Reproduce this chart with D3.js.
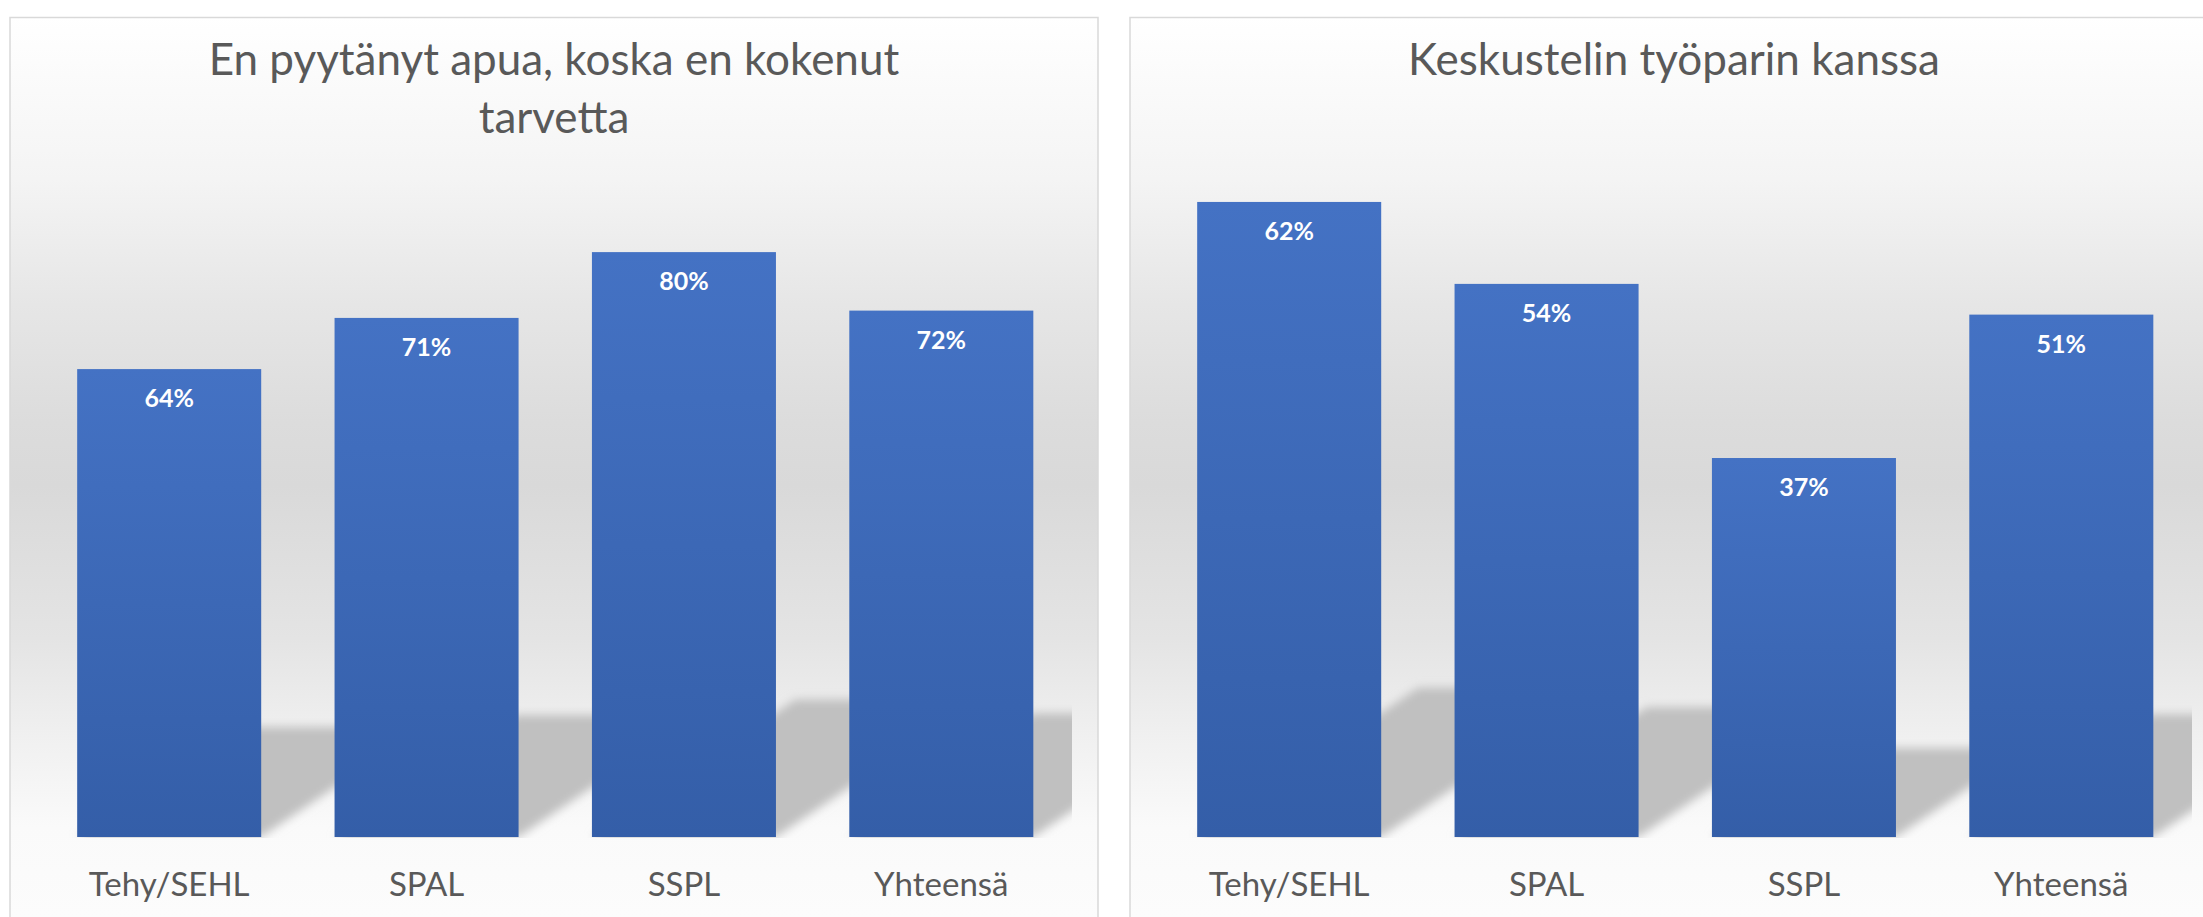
<!DOCTYPE html>
<html>
<head>
<meta charset="utf-8">
<script src="https://cdn.jsdelivr.net/npm/d3@7"></script>
<style>
    html, body { margin: 0; padding: 0; background: #ffffff; }
    svg { display: block; }
    .chart-title { font-family: Lato, "Open Sans", sans-serif; fill: #595959; }
    .cat-label { font-family: Lato, "Open Sans", sans-serif; fill: #595959; }
    .bar-label { font-family: Lato, "Open Sans", sans-serif; font-weight: 700; fill: #ffffff; }
</style>
</head>
<body>
<svg id="chart"></svg>
<script>
// categories shared by both charts
var categories = ['Tehy/SEHL', 'SPAL', 'SSPL', 'Yhteensä'];

// left chart
var leftTitle = ['En pyytänyt apua, koska en kokenut', 'tarvetta'];
var leftValues = [0.64, 0.71, 0.80, 0.72];
var leftMax = 0.9;

// right chart
var rightTitle = ['Keskustelin työparin kanssa'];
var rightValues = [0.62, 0.54, 0.37, 0.51];
var rightMax = 0.7;

(function () {
    'use strict';

    var W = 2203, H = 917;
    var svg = d3.select('#chart').attr('width', W).attr('height', H);
    var defs = svg.append('defs');

    // panel background: white -> grey -> white
    var bg = defs.append('linearGradient')
        .attr('id', 'panel-bg')
        .attr('gradientUnits', 'userSpaceOnUse')
        .attr('x1', 0).attr('y1', 17).attr('x2', 0).attr('y2', 917);
    [[0, '#ffffff'], [0.18, '#f4f4f4'], [0.32, '#e6e6e6'], [0.45, '#dcdcdc'],
     [0.52, '#d9d9d9'], [0.69, '#e4e4e4'], [0.80, '#f0f0f0'], [0.90, '#fafafa'], [1, '#fcfcfc']]
        .forEach(function (s) {
            bg.append('stop').attr('offset', s[0]).attr('stop-color', s[1]);
        });

    // bar fill, darker towards the bottom
    var barGrad = defs.append('linearGradient')
        .attr('id', 'bar-fill')
        .attr('x1', 0).attr('y1', 0).attr('x2', 0).attr('y2', 1);
    barGrad.append('stop').attr('offset', 0).attr('stop-color', '#4472c4');
    barGrad.append('stop').attr('offset', 1).attr('stop-color', '#345ea8');

    defs.append('filter')
        .attr('id', 'shadow-blur')
        .attr('x', '-20%').attr('y', '-20%').attr('width', '140%').attr('height', '140%')
        .append('feGaussianBlur')
        .attr('stdDeviation', 5);

    function drawPanel(opts) {
        var g = svg.append('g');

        g.append('rect')
            .attr('x', opts.left)
            .attr('y', 17.5)
            .attr('width', opts.width)
            .attr('height', H + 20)
            .attr('fill', 'url(#panel-bg)')
            .attr('stroke', '#d9d9d9')
            .attr('stroke-width', 1.5);

        var x = d3.scaleBand()
            .domain(categories)
            .range([opts.left + 30.5, opts.left + 1060])
            .paddingInner(0.285)
            .paddingOuter(0.1425);

        var y = d3.scaleLinear()
            .domain([0, opts.max])
            .range([837, opts.plotTop]);

        var data = categories.map(function (c, i) {
            return { cat: c, value: opts.values[i] };
        });

        // perspective shadows, clipped to the plot area
        var clipId = 'clip-' + opts.id;
        defs.append('clipPath').attr('id', clipId)
            .append('rect')
            .attr('x', x.range()[0])
            .attr('y', 0)
            .attr('width', x.range()[1] - x.range()[0] + 2)
            .attr('height', y(0) + 1);

        g.append('g')
            .attr('clip-path', 'url(#' + clipId + ')')
            .append('g')
            .attr('filter', 'url(#shadow-blur)')
            .selectAll('path')
            .data(data)
            .enter()
            .append('path')
            .attr('fill', '#c0c0c0')
            .attr('d', function (d) {
                var x0 = x(d.cat), x1 = x0 + x.bandwidth();
                var base = y(0);
                var h = (base - y(d.value)) * 0.235;
                var dx = h * 1.48;
                return 'M' + x0 + ',' + base + 'L' + x1 + ',' + base
                    + 'L' + (x1 + dx) + ',' + (base - h)
                    + 'L' + (x0 + dx) + ',' + (base - h) + 'Z';
            });

        g.selectAll('.bar')
            .data(data)
            .enter()
            .append('rect')
            .attr('class', 'bar')
            .attr('x', function (d) { return x(d.cat); })
            .attr('y', function (d) { return y(d.value); })
            .attr('width', x.bandwidth())
            .attr('height', function (d) { return y(0) - y(d.value); })
            .attr('fill', 'url(#bar-fill)');

        g.selectAll('.bar-label')
            .data(data)
            .enter()
            .append('text')
            .attr('class', 'bar-label')
            .attr('x', function (d) { return x(d.cat) + x.bandwidth() / 2; })
            .attr('y', function (d) { return y(d.value) + 38; })
            .attr('text-anchor', 'middle')
            .attr('font-size', 25)
            .text(function (d) { return d3.format('.0%')(d.value); });

        g.selectAll('.cat-label')
            .data(categories)
            .enter()
            .append('text')
            .attr('class', 'cat-label')
            .attr('x', function (d) { return x(d) + x.bandwidth() / 2; })
            .attr('y', 896)
            .attr('text-anchor', 'middle')
            .attr('font-size', 33)
            .text(function (d) { return d; });

        g.selectAll('.chart-title')
            .data(opts.title)
            .enter()
            .append('text')
            .attr('class', 'chart-title')
            .attr('x', opts.left + opts.width / 2)
            .attr('y', function (d, i) { return 75 + i * 58; })
            .attr('text-anchor', 'middle')
            .attr('font-size', 44)
            .text(function (d) { return d; });
    }

    drawPanel({ id: 'left', left: 10, width: 1088, title: leftTitle, values: leftValues, max: leftMax, plotTop: 179 });
    drawPanel({ id: 'right', left: 1130, width: 1088, title: rightTitle, values: rightValues, max: rightMax, plotTop: 120 });
})();
</script>
</body>
</html>
